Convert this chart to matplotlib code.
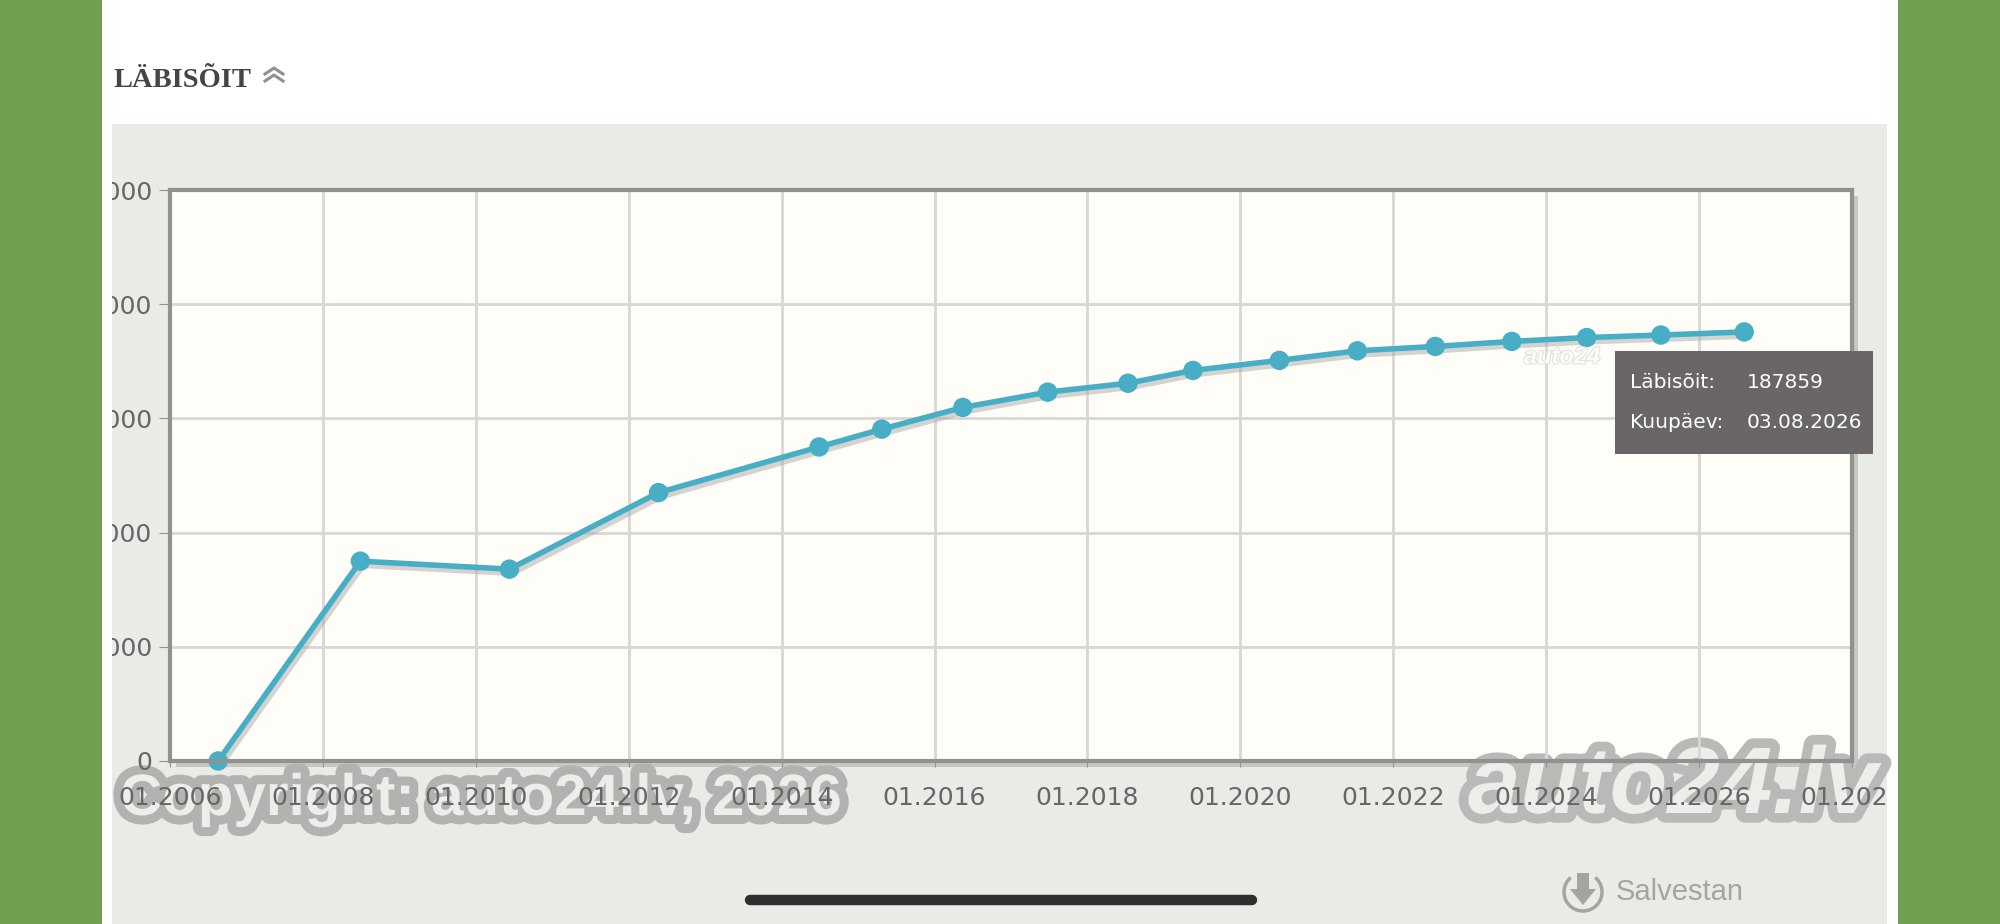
import matplotlib
matplotlib.use("Agg")
import matplotlib.pyplot as plt
import matplotlib.patheffects as pe
from matplotlib.patches import Rectangle, Arc
from matplotlib.transforms import Bbox

# mileage readings, x in decimal years
years = [2006.63, 2008.49, 2010.44, 2012.39, 2014.49, 2015.31, 2016.37, 2017.48, 2018.53,
         2019.38, 2020.51, 2021.53, 2022.55, 2023.55, 2024.53, 2025.50, 2026.59]
mileage = [0, 87500, 84000, 117500, 137500, 145300, 154800, 161500, 165400,
           171000, 175400, 179600, 181500, 183700, 185400, 186500, 187859]

x_ticks = [2006, 2008, 2010, 2012, 2014, 2016, 2018, 2020, 2022, 2024, 2026, 2028]
x_labels = ["01.2006", "01.2008", "01.2010", "01.2012", "01.2014", "01.2016",
            "01.2018", "01.2020", "01.2022", "01.2024", "01.2026", "01.2028"]
y_ticks = [0, 50000, 100000, 150000, 200000, 250000]

W, H = 2000, 924
GREEN = "#6f9f50"
PANEL = "#e9ece6"
PLOT = "#fffdf7"
BLUE = "#47aec6"


def ax_rect(x0, y0, x1, y1):
    # pixel box (y from the top) to figure fractions
    return [x0 / W, 1 - y1 / H, (x1 - x0) / W, (y1 - y0) / H]


fig = plt.figure(figsize=(20, 9.24), dpi=100, facecolor=GREEN)

# page behind the chart
bg = fig.add_axes([0, 0, 1, 1], zorder=0)
bg.set_xlim(0, W)
bg.set_ylim(H, 0)
bg.axis("off")
bg.add_patch(Rectangle((102, 0), 1796, H, color="white", lw=0))
bg.add_patch(Rectangle((112, 124), 1775, H - 124, color=PANEL, lw=0))
bg.add_patch(Rectangle((176, 196), 1682, 571, color="#c6c9c3", lw=0))
bg.add_patch(Rectangle((170, 190), 1682, 571, color=PLOT, lw=0))
bg.text(113, 87, "LÄBISÕIT", family="Liberation Serif", weight="bold", fontsize=20.5,
        color="#454545", va="baseline")
for dy in (0, 7):
    bg.plot([265, 274, 283], [74 + dy, 68 + dy, 74 + dy], color="#909090", lw=2.2)

# watermarks sit under the axes so grid and tick labels show through them
bg.text(120, 815, "Copyright: auto24.lv, 2026", family="Liberation Sans", weight="bold",
        fontsize=42, color="#eceee9", va="baseline",
        path_effects=[pe.Stroke(linewidth=13, foreground="#b2b3b0"), pe.Normal()])
bg.text(1468, 813, "auto24.lv", family="Liberation Sans", weight="bold", style="italic",
        fontsize=68, color="#eceee9", va="baseline",
        path_effects=[pe.Stroke(linewidth=14, foreground="#b9bab7"), pe.Normal()])

# chart
ax = fig.add_axes(ax_rect(170, 190, 1852, 761), zorder=1, facecolor="none")
ax.set_xlim(2006, 2028)
ax.set_ylim(0, 250000)
ax.set_xticks(x_ticks, x_labels)
ax.set_yticks(y_ticks, [str(v) for v in y_ticks])
ax.grid(True, color="#d9d7d5", lw=2)
ax.set_axisbelow(True)
ax.tick_params(axis="x", length=4, color="#8f928f", labelsize=18, labelcolor="#666666", pad=14)
ax.tick_params(axis="y", length=8, color="#8f928f", labelsize=18, labelcolor="#666666", pad=5)
for s in ax.spines.values():
    s.set_color("#8f928f")
    s.set_linewidth(3)

# labels get cut off at the panel edges
panel_box = Bbox([[112, 0], [1887, H]])
for lab in ax.get_xticklabels() + ax.get_yticklabels():
    lab.set_clip_on(True)
    lab.set_clip_box(panel_box)

ax.plot(years, mileage, color=BLUE, lw=4, marker="o", ms=14, mew=0, clip_on=False,
        path_effects=[pe.SimpleLineShadow(offset=(2, -3), shadow_color="#aaaaaa", alpha=0.5),
                      pe.Normal()])

# everything lying over the chart
top = fig.add_axes([0, 0, 1, 1], zorder=2)
top.set_xlim(0, W)
top.set_ylim(H, 0)
top.axis("off")
top.patch.set_alpha(0)

top.text(1562, 357, "auto24", family="Liberation Sans", weight="bold", style="italic",
         fontsize=17, color="white", ha="center", va="center", alpha=0.9,
         path_effects=[pe.withStroke(linewidth=1.5, foreground="#dddddd")])

top.add_patch(Rectangle((1615, 351), 258, 103, color="#6a6566", lw=0))
for y, name, val in [(382, "Läbisõit:", "187859"), (423, "Kuupäev:", "03.08.2026")]:
    top.text(1630, y, name, color="white", fontsize=14.5, va="center")
    top.text(1747, y, val, color="white", fontsize=14.5, va="center")

# save button
top.add_patch(Arc((1583, 892), 38, 38, theta1=-50, theta2=230, color="#a3a5a2", lw=2.5))
top.add_patch(Rectangle((1577, 873), 12, 16, color="#a3a5a2", lw=0))
top.fill([1570, 1596, 1583], [889, 889, 905], color="#a3a5a2", lw=0)
top.text(1616, 892, "Salvestan", family="Liberation Sans", fontsize=21, color="#a3a5a2", va="center")

# phone home bar
top.plot([750, 1252], [900, 900], color="#2f2f2f", lw=7.5, solid_capstyle="round")

fig.savefig("out.png", dpi=100, facecolor=GREEN)
